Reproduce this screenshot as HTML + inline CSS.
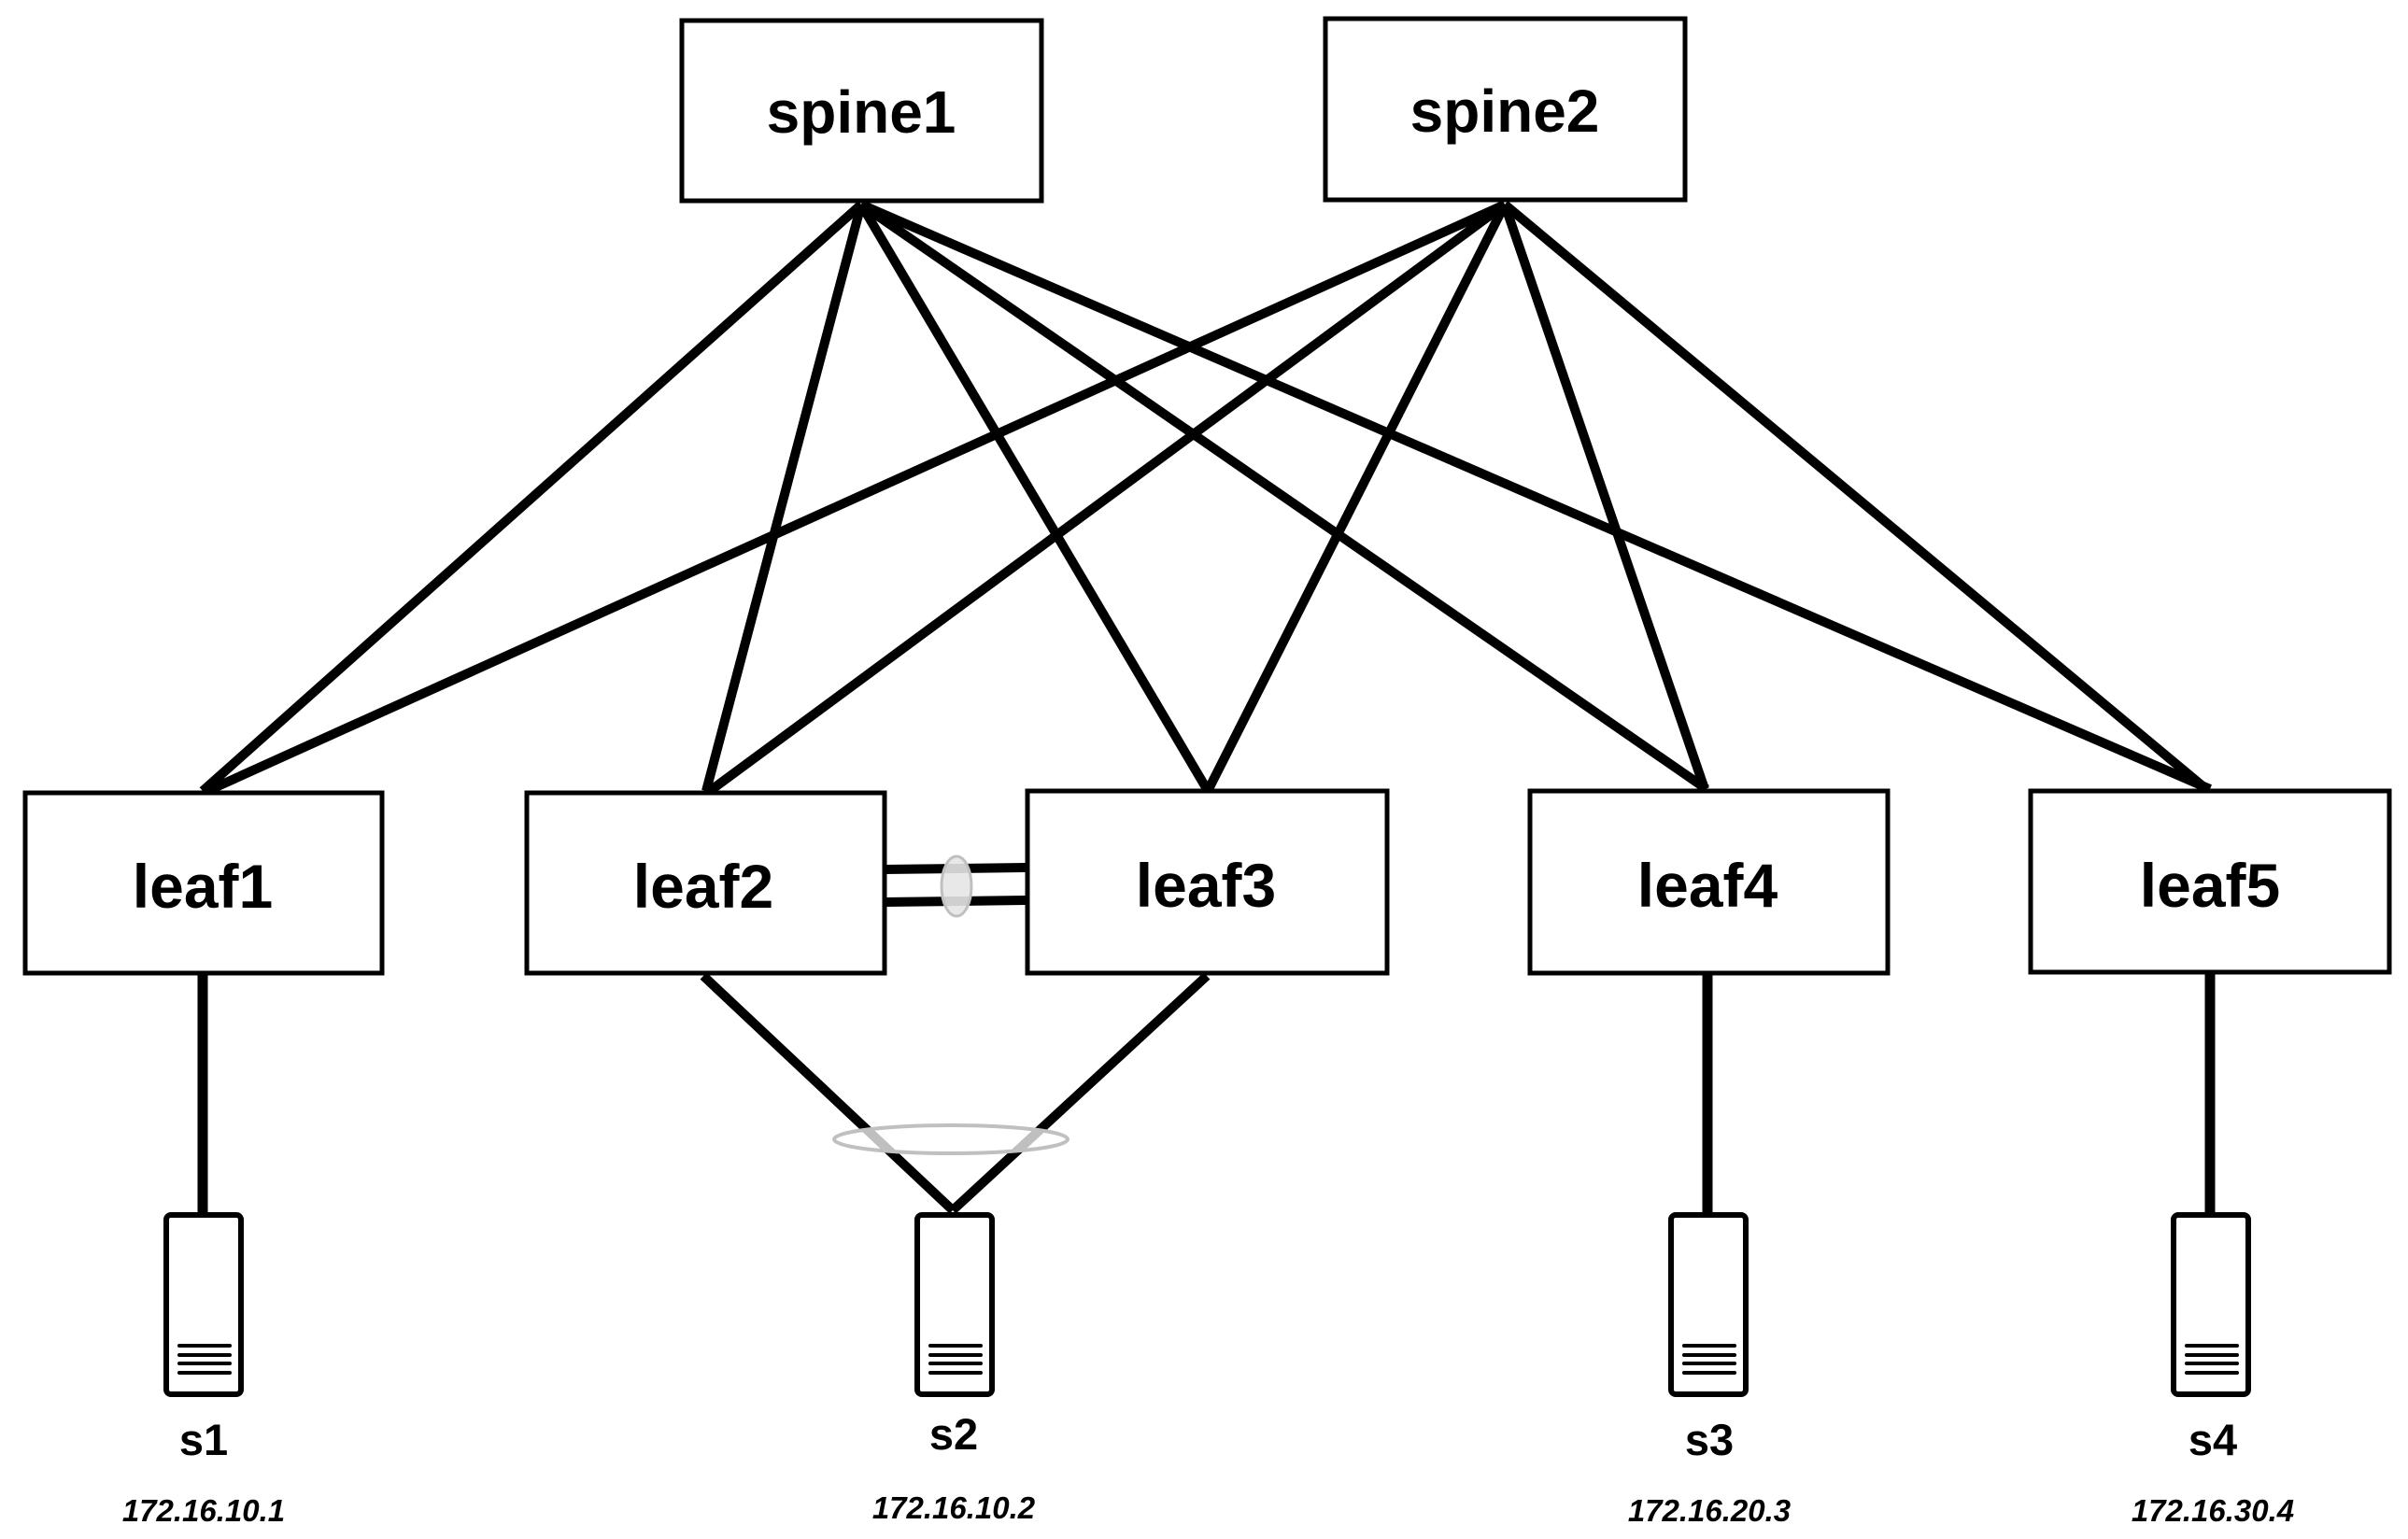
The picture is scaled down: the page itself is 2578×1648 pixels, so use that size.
<!DOCTYPE html>
<html><head><meta charset="utf-8"><style>html,body{margin:0;padding:0;background:#fff}svg{display:block}</style></head>
<body>
<svg width="2578" height="1648" viewBox="0 0 2578 1648" xmlns="http://www.w3.org/2000/svg">
<g stroke="#000" stroke-width="10" stroke-linecap="butt">
<line x1="922" y1="219" x2="217" y2="847"/>
<line x1="922" y1="219" x2="756" y2="847"/>
<line x1="922" y1="219" x2="1292" y2="845"/>
<line x1="922" y1="219" x2="1827" y2="845"/>
<line x1="922" y1="219" x2="2366" y2="845"/>
<line x1="1611" y1="219" x2="222" y2="847"/>
<line x1="1611" y1="219" x2="760" y2="847"/>
<line x1="1611" y1="219" x2="1294" y2="845"/>
<line x1="1611" y1="219" x2="1825" y2="845"/>
<line x1="1611" y1="219" x2="2362" y2="845"/>
<line x1="947" y1="931" x2="1098" y2="929"/>
<line x1="947" y1="966" x2="1098" y2="964"/>
<line x1="753" y1="1045" x2="1020" y2="1296"/>
<line x1="1292" y1="1045" x2="1020" y2="1296"/>
</g>
<g stroke="#000" stroke-width="11">
<line x1="217" y1="1042" x2="217" y2="1299"/>
<line x1="1828" y1="1042" x2="1828" y2="1299"/>
<line x1="2366" y1="1041" x2="2366" y2="1299"/>
</g>
<ellipse cx="1024" cy="949" rx="16" ry="32" fill="#e6e6e6" fill-opacity="0.9" stroke="#c0c0c0" stroke-width="3"/>
<ellipse cx="1018" cy="1220" rx="125" ry="15" fill="#fff" fill-opacity="0.75" stroke="#c0c0c0" stroke-width="4"/>
<g fill="#fff" stroke="#000" stroke-width="5">
<rect x="730" y="22" width="385" height="193"/>
<rect x="1419" y="20" width="385" height="194"/>
<rect x="27" y="849" width="382" height="193"/>
<rect x="564" y="849" width="383" height="193"/>
<rect x="1100" y="847" width="385" height="195"/>
<rect x="1638" y="847" width="383" height="195"/>
<rect x="2174" y="847" width="384" height="194"/>
</g>
<g fill="#fff" stroke="#000" stroke-width="6">
<rect x="178" y="1301" width="80" height="192" rx="5"/>
<rect x="982" y="1301" width="80" height="192" rx="5"/>
<rect x="1789" y="1301" width="80" height="192" rx="5"/>
<rect x="2327" y="1301" width="80" height="192" rx="5"/>
</g>
<g stroke="#000" stroke-width="4" stroke-linecap="round">
<path d="M192 1441h54M192 1451h54M192 1460h54M192 1470h54"/>
<path d="M996 1441h54M996 1451h54M996 1460h54M996 1470h54"/>
<path d="M1803 1441h54M1803 1451h54M1803 1460h54M1803 1470h54"/>
<path d="M2341 1441h54M2341 1451h54M2341 1460h54M2341 1470h54"/>
</g>
<g font-family="'Liberation Sans', sans-serif" font-weight="bold" fill="#000" text-anchor="middle">
<text x="922" y="142" font-size="64">spine1</text>
<text x="1611" y="141" font-size="64">spine2</text>
<text x="217" y="972" font-size="66">leaf1</text>
<text x="753" y="972" font-size="66">leaf2</text>
<text x="1291" y="971" font-size="66">leaf3</text>
<text x="1828" y="971" font-size="66">leaf4</text>
<text x="2366" y="971" font-size="66">leaf5</text>
<text x="218" y="1558" font-size="47">s1</text>
<text x="1021" y="1552" font-size="47">s2</text>
<text x="1830" y="1558" font-size="47">s3</text>
<text x="2369" y="1558" font-size="47">s4</text>
<g font-style="italic" font-size="33">
<text x="218" y="1629">172.16.10.1</text>
<text x="1021" y="1626">172.16.10.2</text>
<text x="1830" y="1629">172.16.20.3</text>
<text x="2369" y="1629">172.16.30.4</text>
</g>
</g>
</svg>
</body></html>
